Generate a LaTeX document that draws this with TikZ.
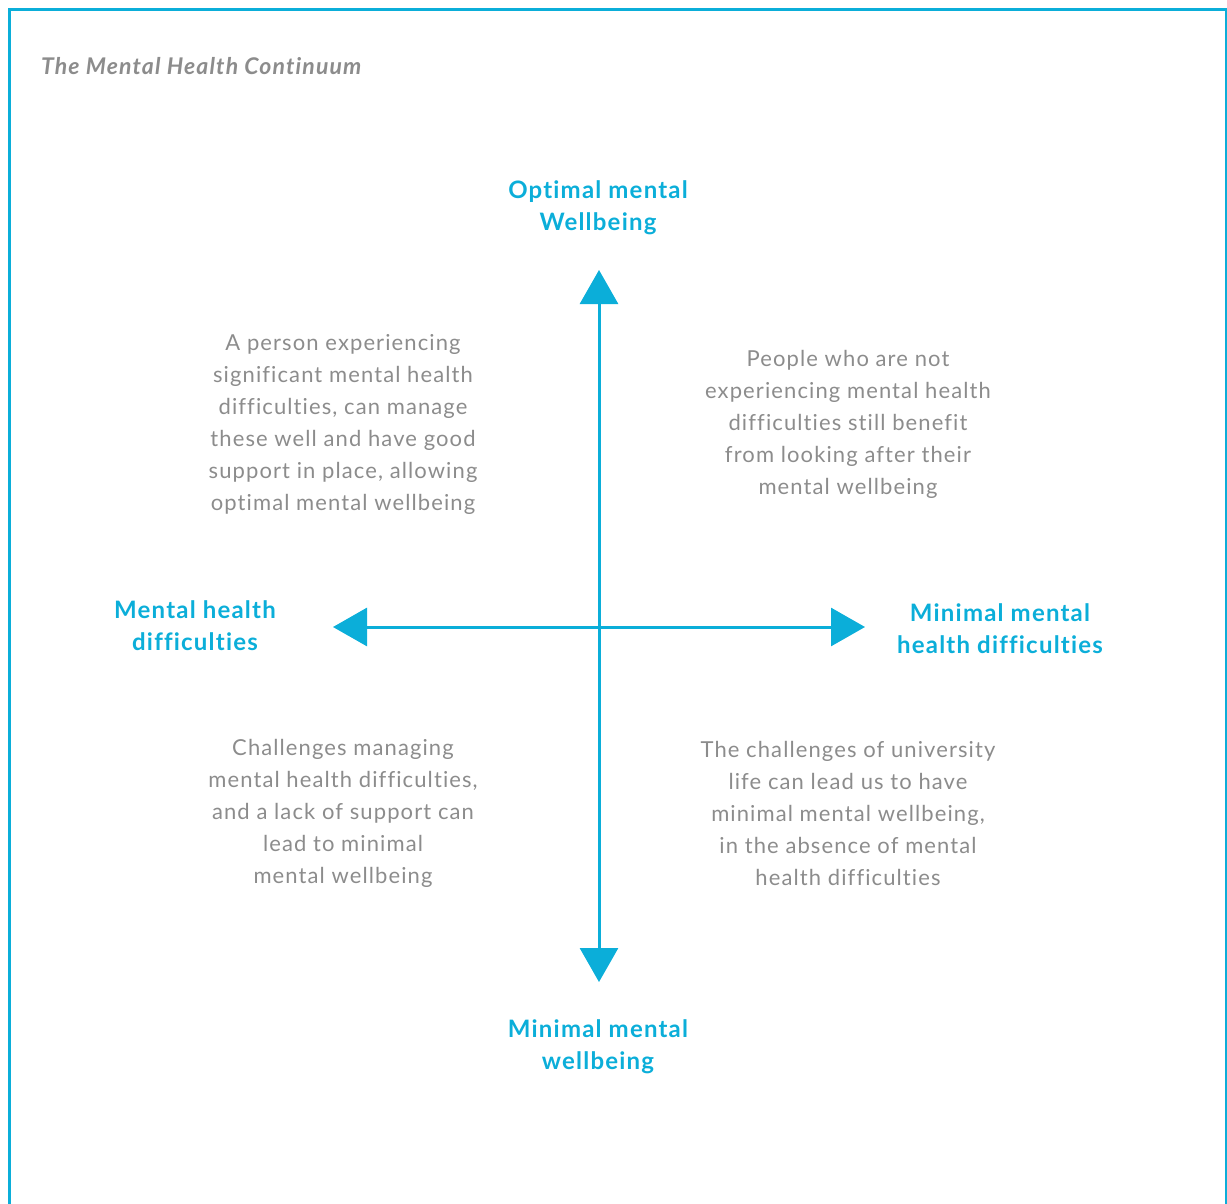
\documentclass[tikz,border=0pt]{standalone}
\usepackage{fontspec}
\setmainfont[LetterSpace=5,Ligatures=NoCommon]{Lato}
\usetikzlibrary{arrows.meta}
\definecolor{mhblue}{HTML}{0BAED9}
\definecolor{mhgrey}{HTML}{8C8C8C}
\tikzset{
  axislabel/.style={text=mhblue, align=center, font=\fontsize{12}{16}\selectfont\bfseries},
  quadtext/.style={text=mhgrey, align=center, font=\fontsize{11}{16}\selectfont},
  axisarrow/.style={mhblue, line width=1.5pt, -{Triangle[width=19pt,length=17pt]}}
}
\begin{document}
\begin{tikzpicture}[x=0.5pt,y=-0.5pt]
  \useasboundingbox (0,0) rectangle (1227,1204);
  % Frame
  \draw[mhblue, line width=1.5pt] (9,1204) -- (9,10) -- (1226,10) -- (1226,1204);
  % Title
  \node[anchor=west, text=mhgrey, font=\fontsize{11.5}{16}\selectfont\bfseries\itshape] (title) at (34,66) {The Mental Health Continuum};
  % Axes
  \coordinate (centre) at (599,627);
  \coordinate (up) at (599,270);
  \coordinate (down) at (599,982);
  \coordinate (left) at (333,627);
  \coordinate (right) at (865,627);
  \draw[axisarrow] (centre) -- (up);
  \draw[axisarrow] (centre) -- (down);
  \draw[axisarrow] (centre) -- (left);
  \draw[axisarrow] (centre) -- (right);
  % Axis labels
  \node[axislabel] (optimal) at (598,208) {Optimal mental\\Wellbeing};
  \node[axislabel] (minimal) at (598,1047) {Minimal mental\\wellbeing};
  \node[axislabel] (difficulties) at (195,626) {Mental health\\difficulties};
  \node[axislabel] (nodifficulties) at (1000,629) {Minimal mental\\health difficulties};
  % Quadrant texts
  \node[quadtext] (topleft) at (343,424) {A person experiencing\\significant mental health\\difficulties, can manage\\these well and have good\\support in place, allowing\\optimal mental wellbeing};
  \node[quadtext] (topright) at (848,424) {People who are not\\experiencing mental health\\difficulties still benefit\\from looking after their\\mental wellbeing};
  \node[quadtext] (bottomleft) at (343,813) {Challenges managing\\mental health difficulties,\\and a lack of support can\\lead to minimal\\mental wellbeing};
  \node[quadtext] (bottomright) at (848,813) {The challenges of university\\life can lead us to have\\minimal mental wellbeing,\\in the absence of mental\\health difficulties};
\end{tikzpicture}
\end{document}
